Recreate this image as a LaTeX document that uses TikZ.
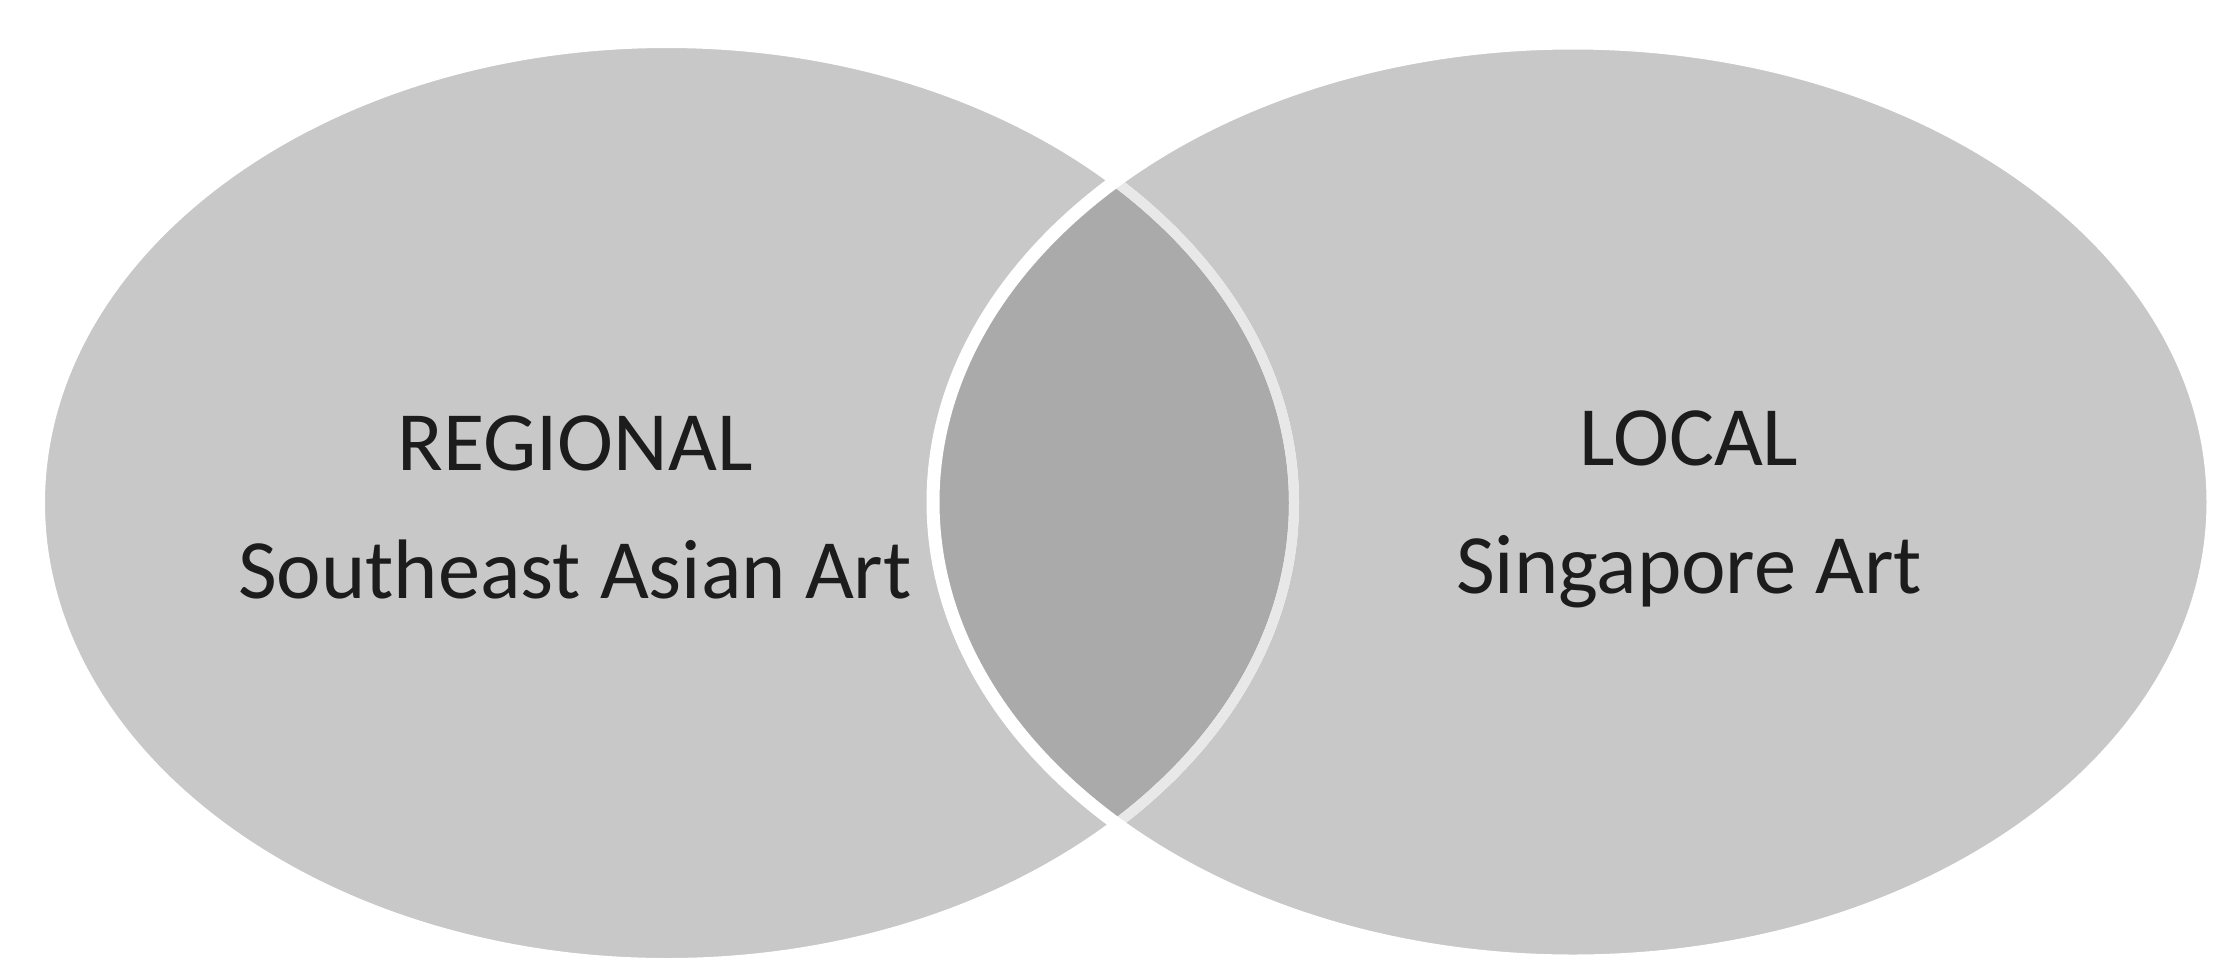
\documentclass[tikz,border=0pt]{standalone}
\usepackage{fontspec}
\setmainfont{Carlito}
\usepackage{tikz}
\usetikzlibrary{positioning}

\definecolor{vennfill}{RGB}{200,200,200}
\definecolor{lensfill}{RGB}{170,170,170}
\definecolor{lensrim}{RGB}{232,232,232}
\definecolor{labeltext}{RGB}{28,28,28}

\tikzset{
    setlabel/.style={text=labeltext, font=\fontsize{24}{29}\selectfont, inner sep=0pt},
    rim/.style={draw=white, line width=0.13cm},
}

\begin{document}
\begin{tikzpicture}[x=0.01cm, y=-0.01cm]
    \useasboundingbox (0,0) rectangle (2214,969);

    \coordinate (regionalc) at (667,503);
    \coordinate (localc) at (1573,502);

    % the two sets
    \fill[vennfill] (regionalc) ellipse [x radius=627, y radius=460];
    \fill[vennfill] (localc) ellipse [x radius=640, y radius=459];

    % overlap
    \begin{scope}
        \clip (regionalc) ellipse [x radius=627, y radius=460];
        \fill[lensfill] (localc) ellipse [x radius=640, y radius=459];
    \end{scope}

    \draw[rim, line width=0.1cm] (regionalc) ellipse [x radius=627, y radius=460];
    \begin{scope}
        \clip (localc) ellipse [x radius=640, y radius=459];
        \draw[rim, draw=lensrim, line width=0.1cm] (regionalc) ellipse [x radius=627, y radius=460];
    \end{scope}
    \draw[rim] (localc) ellipse [x radius=640, y radius=459];

    % labels
    \node[setlabel, anchor=base] (regional) at (575,470) {REGIONAL};
    \node[setlabel, below=1.28cm of regional.base, anchor=base] (seasia) {Southeast Asian Art};
    \node[setlabel, anchor=base] (local) at (1689,465) {LOCAL};
    \node[setlabel, below=1.28cm of local.base, anchor=base] (sgart) {Singapore Art};
\end{tikzpicture}
\end{document}
